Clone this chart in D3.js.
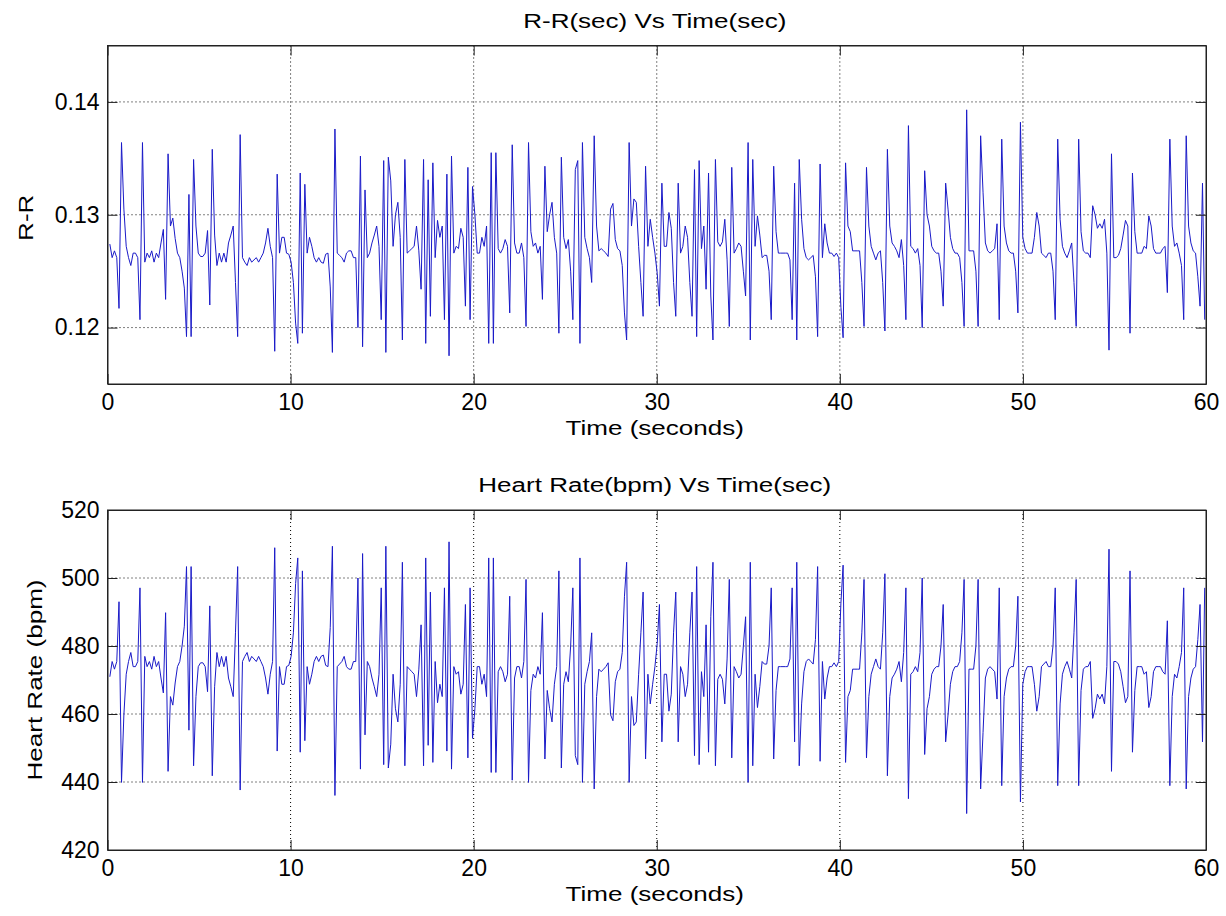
<!DOCTYPE html>
<html>
<head>
<meta charset="utf-8">
<script src="https://cdn.jsdelivr.net/npm/d3@7"></script>
<style>
  body { margin: 0; background: #fff; }
  text { font-family: "Liberation Sans", Arial, Helvetica, sans-serif; fill: #000; }
</style>
</head>
<body>
<svg id="chart"></svg>
<script>
// R-R intervals (seconds), one per beat
const rrIntervals = [
  0.1274,0.1262,0.1268,0.1262,0.1217,0.1364,0.1305,0.1272,0.1262,0.1255,
  0.1266,0.1266,0.1262,0.1207,0.1364,0.1258,0.1266,0.1262,0.1268,0.1258,
  0.1266,0.1262,0.1275,0.1287,0.1225,0.1354,0.1290,0.1297,0.1279,0.1266,
  0.1262,0.1250,0.1235,0.1192,0.1318,0.1192,0.1349,0.1290,0.1266,0.1263,
  0.1263,0.1266,0.1286,0.1220,0.1358,0.1282,0.1255,0.1266,0.1258,0.1266,
  0.1258,0.1275,0.1282,0.1290,0.1240,0.1192,0.1371,0.1262,0.1258,0.1255,
  0.1262,0.1258,0.1260,0.1262,0.1258,0.1262,0.1266,0.1275,0.1288,0.1272,
  0.1262,0.1179,0.1336,0.1266,0.1280,0.1280,0.1266,
  0.1265,0.1258,0.1240,0.1204,0.1186,0.1337,0.1195,0.1327,0.1266,0.1280,
  0.1272,0.1262,0.1258,0.1262,0.1258,0.1257,0.1265,0.1266,0.1236,0.1178,
  0.1376,0.1266,0.1264,0.1262,0.1258,0.1266,0.1268,0.1268,0.1262,0.1262,
  0.1200,0.1352,0.1183,0.1322,0.1262,0.1266,0.1275,0.1282,0.1290,0.1272,
  0.1207,0.1348,0.1178,0.1351,0.1330,0.1272,0.1300,0.1311,0.1280,0.1189,
  0.1349,0.1266,0.1268,0.1270,0.1272,0.1290,0.1268,0.1234,0.1349,0.1186,
  0.1331,0.1210,0.1346,0.1262,0.1295,0.1280,0.1290,0.1207,0.1336,0.1175,
  0.1352,0.1266,0.1272,0.1270,0.1288,
  0.1280,0.1219,0.1342,0.1207,0.1325,0.1300,0.1266,0.1266,0.1280,0.1272,
  0.1290,0.1186,0.1355,0.1186,0.1355,0.1270,0.1266,0.1270,0.1278,0.1272,
  0.1213,0.1362,0.1275,0.1266,0.1266,0.1275,0.1262,0.1201,0.1364,0.1285,
  0.1272,0.1275,0.1266,0.1272,0.1225,0.1343,0.1285,0.1300,0.1311,0.1280,
  0.1266,0.1195,0.1351,0.1280,0.1270,0.1278,0.1250,0.1207,0.1340,0.1348,
  0.1186,0.1364,0.1280,0.1270,0.1262,0.1240,0.1370,0.1290,0.1268,0.1270,
  0.1268,0.1266,0.1263,0.1305,0.1310,0.1278,0.1270,0.1268,0.1255,0.1213,
  0.1189,0.1364,0.1290,0.1314,0.1311,0.1272,0.1240,0.1210,0.1343,0.1272,
  0.1296,0.1280,0.1266,0.1248,0.1219,0.1328,0.1272,0.1272,0.1302,0.1288,
  0.1240,0.1210,0.1328,0.1266,0.1272,0.1290,0.1280,0.1240,0.1210,0.1340,
  0.1192,0.1348,0.1270,0.1290,0.1234,0.1337,0.1228,0.1189,0.1349,0.1276,
  0.1272,0.1276,0.1296,0.1260,0.1201,0.1342,0.1266,0.1270,0.1275,0.1272,
  0.1250,0.1228,0.1364,0.1189,0.1349,0.1272,0.1299,0.1282,0.1262,0.1264,
  0.1264,0.1250,0.1207,0.1343,0.1285,0.1266,0.1266,0.1266,0.1266,0.1266,
  0.1260,0.1207,0.1328,0.1189,0.1349,0.1296,0.1270,0.1262,0.1260,0.1262,
  0.1264,0.1245,0.1192,0.1345,0.1262,0.1292,0.1275,0.1266,0.1266,
  0.1263,0.1266,0.1262,0.1218,0.1191,0.1346,0.1290,0.1285,0.1268,0.1268,
  0.1268,0.1268,0.1240,0.1201,0.1342,0.1290,0.1272,0.1266,0.1260,0.1266,
  0.1268,0.1240,0.1197,0.1358,0.1290,0.1275,0.1272,0.1268,0.1262,0.1278,
  0.1255,0.1207,0.1379,0.1272,0.1270,0.1266,0.1270,0.1255,0.1200,0.1339,
  0.1300,0.1290,0.1272,0.1268,0.1266,0.1266,0.1250,0.1219,0.1328,0.1305,
  0.1280,0.1270,0.1266,0.1266,0.1262,0.1240,0.1201,0.1393,0.1268,0.1268,
  0.1268,0.1250,0.1201,0.1370,0.1320,0.1275,0.1268,0.1266,0.1268,0.1270,
  0.1292,0.1207,0.1367,0.1290,0.1275,0.1268,0.1266,
  0.1266,0.1250,0.1213,0.1382,0.1280,0.1270,0.1266,0.1266,0.1266,0.1280,
  0.1302,0.1290,0.1266,0.1264,0.1262,0.1266,0.1266,0.1250,0.1207,0.1367,
  0.1296,0.1272,0.1266,0.1262,0.1268,0.1275,0.1240,0.1201,0.1367,0.1285,
  0.1268,0.1266,0.1266,0.1262,0.1308,0.1300,0.1288,0.1292,0.1288,0.1296,
  0.1266,0.1180,0.1354,0.1262,0.1262,0.1264,0.1270,0.1282,0.1295,0.1290,
  0.1195,0.1337,0.1285,0.1266,0.1266,0.1266,0.1272,0.1270,0.1299,0.1290,
  0.1270,0.1266,0.1266,0.1266,0.1270,0.1272,0.1231,0.1367,0.1290,0.1272,
  0.1275,0.1266,0.1255,0.1207,0.1370,0.1290,0.1275,0.1268,0.1266,0.1245,
  0.1219,0.1328,0.1207
];

// beat times are the running sum of the intervals
const beatTimes = d3.cumsum(rrIntervals);
// instantaneous heart rate from each interval
const heartRate = rrIntervals.map(d => 60 / d);

const timeDomain = [0, 60];
const timeTicks = [0, 10, 20, 30, 40, 50, 60];
const rrDomain = [0.115, 0.145];
const rrTicks = [0.12, 0.13, 0.14];
const hrDomain = [420, 520];
const hrTicks = [420, 440, 460, 480, 500, 520];

const width = 1226;
const height = 916;
const left = 107.5, right = 1206;
const stretch = 1.24; // labels in the figure are drawn a bit wide

const svg = d3.select("#chart")
  .attr("width", width)
  .attr("height", height);

function drawPanel(cfg) {
  const x = d3.scaleLinear().domain(timeDomain).range([left, right]);
  const y = d3.scaleLinear().domain(cfg.domain).range([cfg.bottom, cfg.top]);
  const g = svg.append("g");

  // dotted grid
  g.selectAll(".vgrid")
    .data(timeTicks.slice(1, -1))
    .enter()
    .append("line")
    .attr("x1", d => x(d)).attr("x2", d => x(d))
    .attr("y1", cfg.top).attr("y2", cfg.bottom)
    .attr("stroke", "#000")
    .attr("stroke-width", 1)
    .attr("stroke-dasharray", "1,3");

  g.selectAll(".hgrid")
    .data(cfg.ticks.filter(d => y(d) > cfg.top + 1 && y(d) < cfg.bottom - 1))
    .enter()
    .append("line")
    .attr("x1", left).attr("x2", right)
    .attr("y1", d => y(d)).attr("y2", d => y(d))
    .attr("stroke", "#000")
    .attr("stroke-width", 1)
    .attr("stroke-dasharray", "1,3");

  // the signal
  const line = d3.line()
    .x((d, i) => x(beatTimes[i]))
    .y(d => y(d));

  g.append("path")
    .datum(cfg.values)
    .attr("d", line)
    .attr("fill", "none")
    .attr("stroke", "#1a1ac8")
    .attr("stroke-width", 1);

  // axes with inward ticks on all four sides
  const tick = -10;
  g.append("g")
    .attr("transform", `translate(0,${cfg.bottom})`)
    .call(d3.axisBottom(x).tickValues(timeTicks).tickSizeInner(tick).tickSizeOuter(0).tickPadding(10).tickFormat(d3.format("d")));
  g.append("g")
    .attr("transform", `translate(0,${cfg.top})`)
    .call(d3.axisTop(x).tickValues(timeTicks).tickSizeInner(tick).tickSizeOuter(0).tickFormat(""));
  g.append("g")
    .attr("transform", `translate(${left},0)`)
    .call(d3.axisLeft(y).tickValues(cfg.ticks).tickSizeInner(tick).tickSizeOuter(0).tickPadding(8).tickFormat(cfg.format));
  g.append("g")
    .attr("transform", `translate(${right},0)`)
    .call(d3.axisRight(y).tickValues(cfg.ticks).tickSizeInner(tick).tickSizeOuter(0).tickFormat(""));

  g.selectAll(".domain").attr("stroke", "#222").attr("stroke-width", 1);
  g.selectAll(".tick line").attr("stroke", "#222");
  g.selectAll(".tick text").attr("font-size", 23).attr("fill", "#000");

  // box
  g.append("rect")
    .attr("x", left).attr("y", cfg.top)
    .attr("width", right - left).attr("height", cfg.bottom - cfg.top)
    .attr("fill", "none")
    .attr("stroke", "#222")
    .attr("stroke-width", 1);

  // title and labels
  const cx = (left + right) / 2 + cfg.titleShift;
  g.append("text")
    .attr("transform", `translate(${cx},${cfg.top - 18}) scale(${stretch},1)`)
    .attr("text-anchor", "middle")
    .attr("font-size", 21)
    .text(cfg.title);

  g.append("text")
    .attr("transform", `translate(${cx},${cfg.bottom + 51}) scale(${stretch},1)`)
    .attr("text-anchor", "middle")
    .attr("font-size", 21)
    .text("Time (seconds)");

  g.append("text")
    .attr("transform", `translate(${cfg.labelX},${(cfg.top + cfg.bottom) / 2 + cfg.labelShift}) rotate(-90) scale(${stretch},1)`)
    .attr("text-anchor", "middle")
    .attr("font-size", 21)
    .text(cfg.ylabel);
}

drawPanel({
  values: rrIntervals,
  domain: rrDomain,
  ticks: rrTicks,
  format: d3.format(".2f"),
  top: 45.5,
  bottom: 384,
  title: "R-R(sec) Vs Time(sec)",
  ylabel: "R-R",
  labelX: 33,
  labelShift: 3,
  titleShift: -2
});

drawPanel({
  values: heartRate,
  domain: hrDomain,
  ticks: hrTicks,
  format: d3.format("d"),
  top: 510,
  bottom: 850,
  title: "Heart Rate(bpm) Vs Time(sec)",
  ylabel: "Heart Rate (bpm)",
  labelX: 42,
  labelShift: 0,
  titleShift: -2
});
</script>
</body>
</html>
